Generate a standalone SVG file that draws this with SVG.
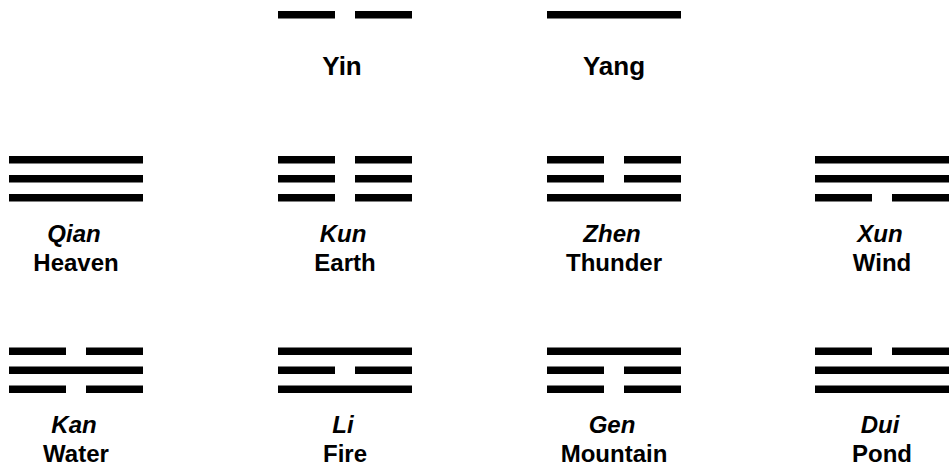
<svg xmlns="http://www.w3.org/2000/svg" xmlns:xlink="http://www.w3.org/1999/xlink" width="950" height="471" viewBox="0 0 950 471">
<style>
.bar{fill:#000}
.lbl{font-family:"Liberation Sans",Arial,sans-serif;font-weight:bold;fill:#000;text-anchor:middle}
.big{font-size:26px}
.nm{font-size:24px;font-style:italic}
.en{font-size:24px}
</style>
<defs>
<g id="yang"><rect class="bar" x="0" y="0" width="134" height="7.5"/></g>
<g id="yin"><rect class="bar" x="0" y="0" width="57" height="7.5"/><rect class="bar" x="77" y="0" width="57" height="7.5"/></g>
</defs>
<rect width="950" height="471" fill="#fff"/>
<g id="yin-node">
<use xlink:href="#yin" href="#yin" x="278" y="11"/>
<text class="lbl big" x="342" y="75">Yin</text>
</g>
<g id="yang-node">
<use xlink:href="#yang" href="#yang" x="547" y="11"/>
<text class="lbl big" x="614" y="75">Yang</text>
</g>
<g id="qian">
<use href="#yang" x="9" y="156"/><use href="#yang" x="9" y="175"/><use href="#yang" x="9" y="194"/>
<text class="lbl nm" x="74" y="241.5">Qian</text>
<text class="lbl en" x="76" y="270.5">Heaven</text>
</g>
<g id="kun">
<use href="#yin" x="278" y="156"/><use href="#yin" x="278" y="175"/><use href="#yin" x="278" y="194"/>
<text class="lbl nm" x="343" y="241.5">Kun</text>
<text class="lbl en" x="345" y="270.5">Earth</text>
</g>
<g id="zhen">
<use href="#yin" x="547" y="156"/><use href="#yin" x="547" y="175"/><use href="#yang" x="547" y="194"/>
<text class="lbl nm" x="612" y="241.5">Zhen</text>
<text class="lbl en" x="614" y="270.5">Thunder</text>
</g>
<g id="xun">
<use href="#yang" x="815" y="156"/><use href="#yang" x="815" y="175"/><use href="#yin" x="815" y="194"/>
<text class="lbl nm" x="880" y="241.5">Xun</text>
<text class="lbl en" x="882" y="270.5">Wind</text>
</g>
<g id="kan">
<use href="#yin" x="9" y="347.5"/><use href="#yang" x="9" y="366.5"/><use href="#yin" x="9" y="385.5"/>
<text class="lbl nm" x="74" y="432.5">Kan</text>
<text class="lbl en" x="76" y="461.5">Water</text>
</g>
<g id="li">
<use href="#yang" x="278" y="347.5"/><use href="#yin" x="278" y="366.5"/><use href="#yang" x="278" y="385.5"/>
<text class="lbl nm" x="343" y="432.5">Li</text>
<text class="lbl en" x="345" y="461.5">Fire</text>
</g>
<g id="gen">
<use href="#yang" x="547" y="347.5"/><use href="#yin" x="547" y="366.5"/><use href="#yin" x="547" y="385.5"/>
<text class="lbl nm" x="612" y="432.5">Gen</text>
<text class="lbl en" x="614" y="461.5">Mountain</text>
</g>
<g id="dui">
<use href="#yin" x="815" y="347.5"/><use href="#yang" x="815" y="366.5"/><use href="#yang" x="815" y="385.5"/>
<text class="lbl nm" x="880" y="432.5">Dui</text>
<text class="lbl en" x="882" y="461.5">Pond</text>
</g>
<g id="connectors"/>
</svg>
